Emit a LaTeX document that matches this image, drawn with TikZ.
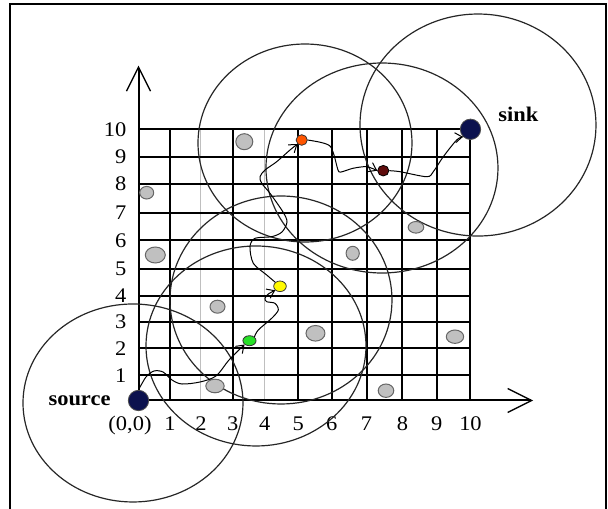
\documentclass[tikz,border=0pt]{standalone}
\usepackage{fontspec}
\setmainfont{Liberation Serif}[FakeStretch=1.08]
\usetikzlibrary{positioning,shapes.geometric,arrows.meta}
\definecolor{sinkblue}{RGB}{12,18,78}
\definecolor{hopred}{RGB}{255,85,0}
\definecolor{hopbrown}{RGB}{95,12,12}
\definecolor{hopyellow}{RGB}{255,250,0}
\definecolor{hopgreen}{RGB}{40,225,40}
\definecolor{dotgray}{RGB}{192,192,192}
\begin{document}
\begin{tikzpicture}[x=16.6pt,y=13.56pt,font=\fontsize{10.4}{12}\selectfont,
  reach/.style={black!85,line width=0.6pt},
  hop/.style={line width=0.5pt,-{Straight Barb[length=3.5pt,width=5pt]}},
  obstacle/.style={ellipse,draw=black!60,fill=dotgray,line width=0.5pt,inner sep=0pt},
  relay/.style={ellipse,draw=black!80,line width=0.4pt,inner sep=0pt,minimum width=5.6pt,minimum height=5.3pt},
  endpoint/.style={circle,fill=sinkblue,draw=black!70,line width=0.4pt,inner sep=0pt,minimum size=10.2pt}]
\useasboundingbox (-4.172,-4.001) rectangle (14.142,14.768);
\draw[line width=1.3pt] (-3.87,-4.3) rectangle (14.08,14.62);

% grid
\foreach \x in {0.95,2.84,4.81,5.82,6.87,7.95,8.98,10}
\draw[line width=1pt] (\x,0) -- (\x,10);
\foreach \x in {1.88,3.80}
\draw[black!25,line width=0.5pt] (\x,0) -- (\x,10);
\foreach \y in {0.93,1.92,2.91,3.87,4.86,5.91,6.91,8.00,8.99,10}
\draw[line width=1pt] (0,\y) -- (10,\y);

% axes
\draw[line width=1pt,-{Straight Barb[length=12pt,width=12pt,line width=0.7pt]}] (0,0) -- (11.89,0);
\draw[line width=1pt,-{Straight Barb[length=12pt,width=12pt,line width=0.7pt]}] (0,0) -- (0,12.35);
\foreach \x/\xtext in {0.95/1,1.88/2,2.84/3,3.80/4,4.81/5,5.82/6,6.87/7,7.95/8,8.98/9,10/10}
\node[anchor=base] (x\xtext) at (\x,-1.09) {\xtext};
\node[anchor=base] (origin) at (-0.256,-1.09) {(0,0)};
\foreach \y/\ytext in {0.93/1,1.92/2,2.91/3,3.87/4,4.86/5,5.91/6,6.91/7,8.00/8,8.99/9,10/10}
\node[anchor=east,inner sep=0pt] (y\ytext) at (-0.355,\y) {\ytext};

% ranges
\draw[reach] (-0.166,-0.092) ellipse [x radius=55pt,y radius=49.5pt];
\draw[reach] (3.539,2.010) ellipse [x radius=55pt,y radius=50pt];
\draw[reach] (4.292,3.706) ellipse [x radius=55.5pt,y radius=52pt];
\draw[reach] (5.015,9.495) ellipse [x radius=53.5pt,y radius=49.5pt];
\draw[reach] (7.334,8.573) ellipse [x radius=58pt,y radius=52.5pt];
\draw[reach] (10.226,10.158) ellipse [x radius=59pt,y radius=55.5pt];

% sensor nodes
\foreach \x/\y/\w/\h [count=\i] in {3.187/9.543/8.5/8, 0.247/7.662/7/6.3, 0.506/5.365/10/8,
  2.380/3.459/7.5/6.5, 6.452/5.428/6.6/7, 5.331/2.478/9.5/7.8, 8.358/6.386/7.8/5.8,
  9.533/2.353/8.7/6.7, 7.455/0.361/7.8/6.7, 2.304/0.535/9.2/6.8}
\node[obstacle,minimum width=\w pt,minimum height=\h pt] (o\i) at (\x,\y) {};

\node[endpoint] (source) at (0,0) {};
\node[endpoint] (sink) at (10,10) {};
\node[relay,fill=hopgreen,minimum width=6.6pt,minimum height=5pt] (r1) at (3.343,2.205) {};
\node[relay,fill=hopyellow,minimum width=6.3pt] (r2) at (4.262,4.211) {};
\node[relay,fill=hopred] (r3) at (4.916,9.605) {};
\node[relay,fill=hopbrown,draw=black] (r4) at (7.373,8.474) {};

\node[inner sep=0pt,left=8.5pt of source] (srclabel) {\textbf{source}};
\node[inner sep=0pt,above right=0pt and 10pt of sink.north east] (sinklabel) {\textbf{sink}};

% route
\draw[hop] plot[smooth] coordinates {(source.north) (0.226,0.867) (0.467,1.088) (0.738,1.051)
  (1.009,0.756) (1.310,0.608) (1.852,0.682) (2.334,0.903) (2.726,1.493) (r1.south west)};
\draw[hop] plot[smooth] coordinates {(r1.north east) (3.608,2.600) (4.012,3.031) (4.211,3.337)
  (4.111,3.584) (3.861,3.643) (3.810,3.768) (3.910,3.927) (r2.south west)};
\draw[hop] plot[smooth] coordinates {(r2.north west) (3.861,4.628) (3.458,5.059) (3.358,5.671)
  (3.509,5.981) (4.012,6.040) (4.322,6.213) (4.473,6.582) (4.352,6.951) (3.961,7.640)
  (3.711,8.009) (3.660,8.252) (3.810,8.499) (4.163,8.805) (4.563,9.237) (r3.south west)};
\draw[hop] plot[smooth] coordinates {(r3.east) (5.494,9.517) (5.768,9.384) (5.889,9.052)
  (6.009,8.499) (6.099,8.425) (6.461,8.562) (6.873,8.621) (r4.west)};
\draw[hop] plot[smooth] coordinates {(r4.east) (7.877,8.437) (8.681,8.252) (8.880,8.437)
  (9.181,8.990) (9.584,9.606) (sink.south west)};
\end{tikzpicture}
\end{document}
